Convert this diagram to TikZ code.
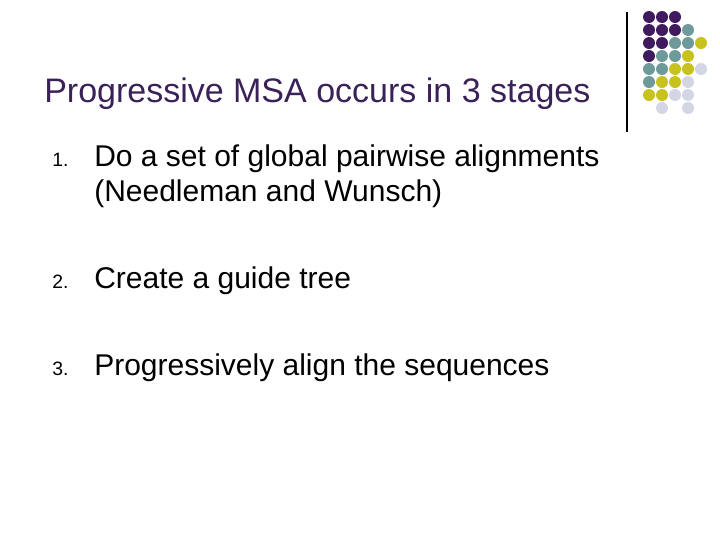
\documentclass[tikz,border=0pt]{standalone}
\usepackage{fontspec}
\setmainfont{Liberation Sans}
\definecolor{dotpurple}{HTML}{3F1A5E}
\definecolor{dotteal}{HTML}{6F9A9A}
\definecolor{dotyellow}{HTML}{C8C21E}
\definecolor{dotlav}{HTML}{D4D6E6}
\definecolor{titlecol}{HTML}{3A2258}
\tikzset{
  dotP/.style={fill=dotpurple},
  dotT/.style={fill=dotteal},
  dotY/.style={fill=dotyellow},
  dotL/.style={fill=dotlav},
  itemnum/.style={anchor=base west, inner sep=0pt, font=\fontsize{14.5}{17}\selectfont},
  itemtext/.style={anchor=base west, inner sep=0pt, font=\fontsize{22.5}{27}\selectfont}
}
\begin{document}
\begin{tikzpicture}[x=0.75pt,y=-0.75pt]
	\useasboundingbox (0,0) rectangle (720,540);
	% Decoration
	\draw [line width=0.8pt] (627,12) -- (627,132);
	\foreach \cx/\cy/\col in {
		649/17/P,662/17/P,675/17/P,
		649/30/P,662/30/P,675/30/P,688/30/T,
		649/43/P,662/43/P,675/43/T,688/43/T,701/43/Y,
		649/56/P,662/56/T,675/56/T,688/56/Y,
		649/69/T,662/69/T,675/69/Y,688/69/Y,701/69/L,
		649/82/T,662/82/Y,675/82/Y,688/82/L,
		649/95/Y,662/95/Y,675/95/L,688/95/L,
		662/108/L,688/108/L}
		\fill [dot\col] (\cx,\cy) circle (6);
	% Title
	\node (title) [anchor=base west, inner sep=0pt, text=titlecol, font=\fontsize{25.5}{30}\selectfont] at (44,102) {Progressive MSA occurs in 3 stages};
	% Items
	\node (n1) [itemnum] at (52,166) {1.};
	\node (t1) [itemtext] at (94,166) {Do a set of global pairwise alignments};
	\node (t1b) [itemtext] at (94,201) {(Needleman and Wunsch)};
	\node (n2) [itemnum] at (52,288) {2.};
	\node (t2) [itemtext] at (94,288) {Create a guide tree};
	\node (n3) [itemnum] at (52,375) {3.};
	\node (t3) [itemtext] at (94,375) {Progressively align the sequences};
\end{tikzpicture}
\end{document}
